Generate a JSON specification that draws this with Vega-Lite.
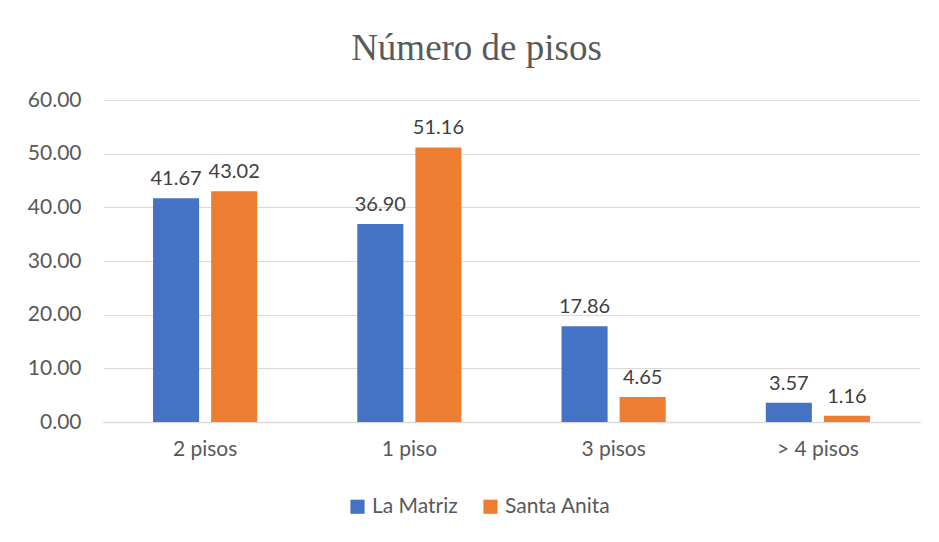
{
  "$schema": "https://vega.github.io/schema/vega-lite/v6.json",
  "width": 817,
  "height": 322,
  "autosize": {"type": "none"},
  "padding": {"left": 103, "top": 100, "right": 19, "bottom": 120},
  "background": "white",
  "title": {
    "text": "Número de pisos",
    "font": "Liberation Serif",
    "fontSize": 37,
    "fontWeight": "normal",
    "color": "#595959",
    "anchor": "middle",
    "offset": 21,
    "dx": -35
  },
  "data": {
    "values": [
      {"cat": "2 pisos", "serie": "La Matriz", "v": 41.67},
      {"cat": "2 pisos", "serie": "Santa Anita", "v": 43.02},
      {"cat": "1 piso", "serie": "La Matriz", "v": 36.90},
      {"cat": "1 piso", "serie": "Santa Anita", "v": 51.16},
      {"cat": "3 pisos", "serie": "La Matriz", "v": 17.86},
      {"cat": "3 pisos", "serie": "Santa Anita", "v": 4.65},
      {"cat": "> 4 pisos", "serie": "La Matriz", "v": 3.57},
      {"cat": "> 4 pisos", "serie": "Santa Anita", "v": 1.16}
    ]
  },
  "encoding": {
    "x": {
      "field": "cat", "type": "nominal", "sort": null, "title": null,
      "scale": {"paddingInner": 0.49, "paddingOuter": 0.245},
      "axis": {"labelAngle": 0, "labelFont": "Lato", "labelFontSize": 21, "labelColor": "#595959", "labelPadding": 16, "ticks": false, "domainColor": "#d9d9d9", "domainWidth": 1.5}
    },
    "xOffset": {"field": "serie", "type": "nominal", "scale": {"paddingInner": 0.207, "paddingOuter": 0}},
    "y": {
      "field": "v", "type": "quantitative", "title": null,
      "scale": {"domain": [0, 60], "nice": false},
      "axis": {"values": [0, 10, 20, 30, 40, 50, 60], "format": ".2f", "domain": false, "ticks": false, "labelFont": "Lato", "labelFontSize": 21, "labelColor": "#595959", "labelPadding": 22, "gridColor": "#d9d9d9", "gridWidth": 1.2}
    }
  },
  "layer": [
    {
      "mark": {"type": "bar"},
      "encoding": {
        "color": {
          "field": "serie", "type": "nominal", "title": null,
          "scale": {"domain": ["La Matriz", "Santa Anita"], "range": ["#4472C4", "#ED7D31"]},
          "legend": {"orient": "none", "legendX": 244, "legendY": 396, "direction": "horizontal", "symbolType": "square", "symbolSize": 200, "labelFont": "Lato", "labelFontSize": 21, "labelColor": "#595959", "columnPadding": 22, "symbolOffset": 0}
        }
      }
    },
    {
      "mark": {"type": "text", "baseline": "bottom", "dy": -9, "font": "Lato", "fontSize": 20, "color": "#404040"},
      "encoding": {"text": {"field": "v", "type": "quantitative", "format": ".2f"}}
    }
  ],
  "config": {"view": {"stroke": null}}
}
